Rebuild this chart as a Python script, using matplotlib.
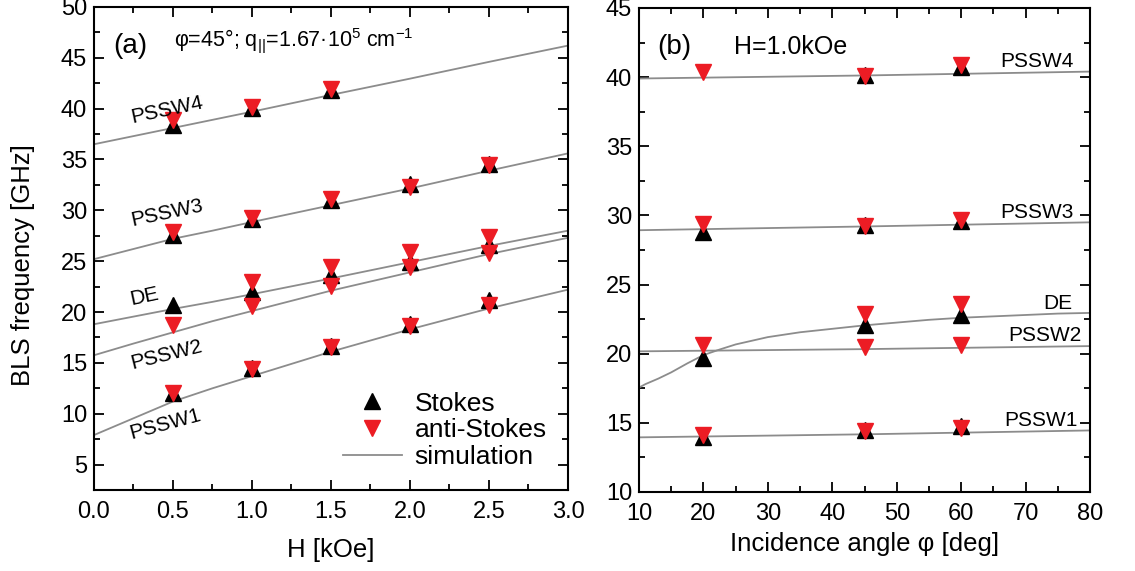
import numpy as np
import matplotlib
matplotlib.use("Agg")
import matplotlib.pyplot as plt
from matplotlib.ticker import MultipleLocator

plt.rcParams["font.family"] = ["Liberation Sans", "DejaVu Sans"]
plt.rcParams["mathtext.fontset"] = "custom"
plt.rcParams["mathtext.rm"] = "Liberation Sans"
plt.rcParams["mathtext.default"] = "regular"

nan = np.nan

# ---- panel (a): frequency vs field ----
H_pts = [0.5, 1.0, 1.5, 2.0, 2.5]
pssw4_st = [38.4, 40.1, 41.8, nan, nan]
pssw4_as = [38.85, 40.2, 41.9, nan, nan]
pssw3_st = [27.6, 29.1, 31.0, 32.6, 34.6]
pssw3_as = [27.9, 29.2, 31.15, 32.3, 34.5]
de_st = [20.65, 21.97, 23.6, 24.9, 26.6]
de_as = [nan, 22.95, 24.4, 25.9, 27.4]
pssw2_as = [18.7, 20.56, 22.6, 24.4, 25.8]
pssw1_st = [12.06, 14.45, 16.7, 18.8, 21.15]
pssw1_as = [12.0, 14.35, 16.6, 18.6, 20.65]

H_sim = [0.0, 0.25, 0.5, 0.75, 1.0, 1.5, 2.0, 2.5, 3.0]
sim_pssw4 = [36.5, 37.3, 38.1, 38.9, 39.7, 41.35, 42.95, 44.6, 46.2]
sim_pssw3 = [25.2, 26.2, 27.2, 28.0, 28.85, 30.5, 32.15, 33.9, 35.6]
sim_de = [18.8, 19.55, 20.3, 21.0, 21.75, 23.3, 24.9, 26.5, 28.0]
sim_pssw2 = [15.75, 16.9, 18.0, 19.1, 20.1, 22.1, 23.9, 25.7, 27.3]
sim_pssw1 = [7.9, 9.55, 11.2, 12.5, 13.7, 16.1, 18.3, 20.35, 22.2]

# ---- panel (b): frequency vs incidence angle ----
phi_pts = [20, 45, 60]
b_pssw4_st = [nan, 40.17, 40.7]
b_pssw4_as = [40.4, 40.1, 40.9]
b_pssw3_st = [28.8, 29.3, 29.6]
b_pssw3_as = [29.4, 29.2, 29.7]
b_de_st = [19.7, 22.05, 22.8]
b_de_as = [nan, 22.9, 23.6]
b_pssw2_as = [20.6, 20.5, 20.6]
b_pssw1_st = [13.95, 14.5, 14.8]
b_pssw1_as = [14.15, 14.4, 14.65]

phi_sim = [10, 11, 12, 13, 15, 17.5, 20, 22.5, 25, 30, 35, 40, 45, 50,
           55, 60, 65, 70, 75, 80]
b_sim_de = [17.55, 17.8, 18.0, 18.2, 18.65, 19.3, 19.9, 20.3, 20.67, 21.2,
            21.55, 21.8, 22.05, 22.25, 22.45, 22.6, 22.7, 22.8, 22.9, 22.95]
phi_line = [10, 45, 80]
b_sim_pssw4 = [39.9, 40.12, 40.4]
b_sim_pssw3 = [28.93, 29.2, 29.5]
b_sim_pssw2 = [20.17, 20.33, 20.55]
b_sim_pssw1 = [13.95, 14.17, 14.45]

RED = "#ec1c24"
GRAY = "#8c8c8c"

fig = plt.figure(figsize=(11.35, 5.71), dpi=100)
ax1 = fig.add_axes([0.0828, 0.1419, 0.4176, 0.8459])
ax2 = fig.add_axes([0.563, 0.1384, 0.3974, 0.8476])


def style(ax):
    for s in ax.spines.values():
        s.set_linewidth(1.5)
    ax.tick_params(which="both", direction="in", top=True, right=True,
                   width=1.3, labelsize=17)
    ax.tick_params(axis="x", pad=8)
    ax.tick_params(axis="y", pad=5)
    ax.tick_params(which="major", length=7)
    ax.tick_params(which="minor", length=4)


# panel (a)
for ys in [sim_pssw4, sim_pssw3, sim_de, sim_pssw2]:
    ax1.plot(H_sim, ys, color=GRAY, lw=1.3)
ax1.plot(H_sim, sim_pssw1, color=GRAY, lw=1.3, label="simulation")
st_a = [pssw4_st, pssw3_st, de_st, pssw1_st]
as_a = [pssw4_as, pssw3_as, de_as, pssw2_as, pssw1_as]
for i, ys in enumerate(st_a):
    ax1.plot(H_pts, ys, ls="none", marker="^", ms=11, color="black",
             label="Stokes" if i == 0 else None)
for i, ys in enumerate(as_a):
    ax1.plot(H_pts, ys, ls="none", marker="v", ms=11, color=RED,
             label="anti-Stokes" if i == 0 else None)

ax1.set_xlim(0, 3)
ax1.set_ylim(2.5, 50)
ax1.xaxis.set_major_locator(MultipleLocator(0.5))
ax1.xaxis.set_minor_locator(MultipleLocator(0.25))
ax1.yaxis.set_major_locator(MultipleLocator(5))
ax1.yaxis.set_minor_locator(MultipleLocator(2.5))
ax1.xaxis.set_major_formatter(lambda v, p: f"{v:.1f}")
style(ax1)
ax1.set_xlabel("H [kOe]", fontsize=18.5, labelpad=11)
ax1.set_ylabel("BLS frequency [GHz]", fontsize=18.5)
ax1.yaxis.set_label_coords(-0.125, 0.465)

ax1.text(0.04, 0.92, "(a)", transform=ax1.transAxes, fontsize=20,
         va="center")
ax1.text(0.168, 0.93, r"φ=45°; q$_{||}$=1.67·10$^5$ cm$^{-1}$",
         transform=ax1.transAxes, fontsize=15.5, va="center")

lbl_a = [("PSSW4", 0.46, 39.9, 12), ("PSSW3", 0.46, 29.7, 12),
         ("DE", 0.32, 21.5, 12), ("PSSW2", 0.46, 15.75, 14),
         ("PSSW1", 0.45, 9.0, 15)]
for t, x, y, r in lbl_a:
    ax1.text(x, y, t, fontsize=15, rotation=r, ha="center", va="center",
             rotation_mode="anchor")

handles, labels = ax1.get_legend_handles_labels()
order = [labels.index("Stokes"), labels.index("anti-Stokes"),
         labels.index("simulation")]
ax1.legend([handles[i] for i in order], [labels[i] for i in order],
           loc="lower right", bbox_to_anchor=(1.0, 0.0), frameon=False,
           fontsize=19, handlelength=2.2, handletextpad=0.5,
           labelspacing=0.1, borderaxespad=0.4)

# panel (b)
ax2.plot(phi_sim, b_sim_de, color=GRAY, lw=1.3)
for ys in [b_sim_pssw4, b_sim_pssw3, b_sim_pssw2, b_sim_pssw1]:
    ax2.plot(phi_line, ys, color=GRAY, lw=1.3)
for ys in [b_pssw4_st, b_pssw3_st, b_de_st, b_pssw1_st]:
    ax2.plot(phi_pts, ys, ls="none", marker="^", ms=11, color="black")
for ys in [b_pssw4_as, b_pssw3_as, b_de_as, b_pssw2_as, b_pssw1_as]:
    ax2.plot(phi_pts, ys, ls="none", marker="v", ms=11, color=RED)

ax2.set_xlim(10, 80)
ax2.set_ylim(10, 45)
ax2.xaxis.set_major_locator(MultipleLocator(10))
ax2.xaxis.set_minor_locator(MultipleLocator(5))
ax2.yaxis.set_major_locator(MultipleLocator(5))
ax2.yaxis.set_minor_locator(MultipleLocator(2.5))
style(ax2)
ax2.set_xlabel("Incidence angle φ [deg]", fontsize=18.5, labelpad=5)

ax2.text(0.04, 0.92, "(b)", transform=ax2.transAxes, fontsize=20,
         va="center")
ax2.text(0.21, 0.92, "H=1.0kOe", transform=ax2.transAxes, fontsize=18,
         va="center")

lbl_b = [("PSSW4", 77.5, 41.1), ("PSSW3", 77.5, 30.2), ("DE", 77.2, 23.6),
         ("PSSW2", 78.7, 21.3), ("PSSW1", 78.0, 15.2)]
for t, x, y in lbl_b:
    ax2.text(x, y, t, fontsize=15, ha="right", va="center")

fig.savefig("out.png", dpi=100)
